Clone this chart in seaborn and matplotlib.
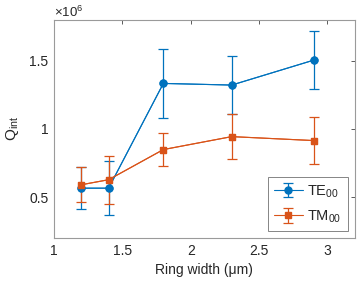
import numpy as np
import pandas as pd
import matplotlib
matplotlib.use("Agg")
import matplotlib.pyplot as plt
import seaborn as sns
from matplotlib.ticker import FormatStrFormatter, FuncFormatter

# data
ring_width = [1.2, 1.4, 1.8, 2.3, 2.9]
q_te = [0.565e6, 0.565e6, 1.333e6, 1.321e6, 1.504e6]
err_te = [0.155e6, 0.20e6, 0.252e6, 0.214e6, 0.21e6]
q_tm = [0.59e6, 0.627e6, 0.848e6, 0.943e6, 0.914e6]
err_tm = [0.13e6, 0.176e6, 0.122e6, 0.167e6, 0.17e6]

blue = "#0072BD"
orange = "#D95319"
dark = "#262626"

sns.set_theme(style="white")
plt.rcParams['font.family'] = ['Liberation Sans', 'DejaVu Sans']
plt.rcParams['mathtext.fontset'] = 'custom'
plt.rcParams['mathtext.rm'] = 'Liberation Sans'
plt.rcParams['mathtext.it'] = 'Liberation Sans:italic'

df = pd.DataFrame({"w": ring_width, "TE": q_te, "TM": q_tm})

fig = plt.figure(figsize=(3.57, 2.86), dpi=100)
ax = fig.add_axes([0.151, 0.168, 0.843, 0.763])

# lines + markers through seaborn
sns.lineplot(data=df, x="w", y="TE", color=blue, marker="o", markersize=5,
             markeredgecolor=blue, linewidth=0.8, ax=ax, legend=False)
sns.lineplot(data=df, x="w", y="TM", color=orange, marker="s", markersize=4.3,
             markeredgecolor=orange, linewidth=0.8, ax=ax, legend=False)

# error bars (also used for the legend glyphs)
ax.errorbar(ring_width, q_te, yerr=err_te, fmt="-o", color=blue, ms=5,
            lw=0.8, elinewidth=0.9, capsize=3.5, capthick=0.9, label="TE$_{00}$")
ax.errorbar(ring_width, q_tm, yerr=err_tm, fmt="-s", color=orange, ms=4.3,
            lw=0.8, elinewidth=0.9, capsize=3.5, capthick=0.9, label="TM$_{00}$")

ax.set_xlim(1, 3.2)
ax.set_ylim(0.2e6, 1.8e6)
ax.set_xticks([1, 1.5, 2, 2.5, 3])
ax.set_yticks([0.5e6, 1e6, 1.5e6])
ax.xaxis.set_major_formatter(FormatStrFormatter("%g"))
ax.yaxis.set_major_formatter(FuncFormatter(lambda v, p: "%g" % (v / 1e6)))
ax.text(0.0, 1.012, r"$\times\mathregular{10}^{6}$", transform=ax.transAxes,
        fontsize=9.5, color=dark, ha="left", va="baseline")

ax.tick_params(direction="in", length=3, width=0.6, top=True, right=True,
               labelsize=10, color="#404040", labelcolor=dark, pad=4)
for s in ax.spines.values():
    s.set_color("#9a9a9a")
    s.set_linewidth(0.8)

ax.set_xlabel("Ring width (μm)", fontsize=10, color=dark)
ax.set_ylabel("Q$_{\\rm int}$", fontsize=11, color=dark, labelpad=6)

leg = ax.legend(loc="lower right", fontsize=10.5, frameon=True, fancybox=False,
                borderaxespad=0.5, handlelength=2.0, borderpad=0.4,
                labelspacing=0.6, handletextpad=0.3)
leg.get_frame().set_edgecolor("#666666")
leg.get_frame().set_linewidth(0.7)

fig.savefig("out.png", dpi=100)
